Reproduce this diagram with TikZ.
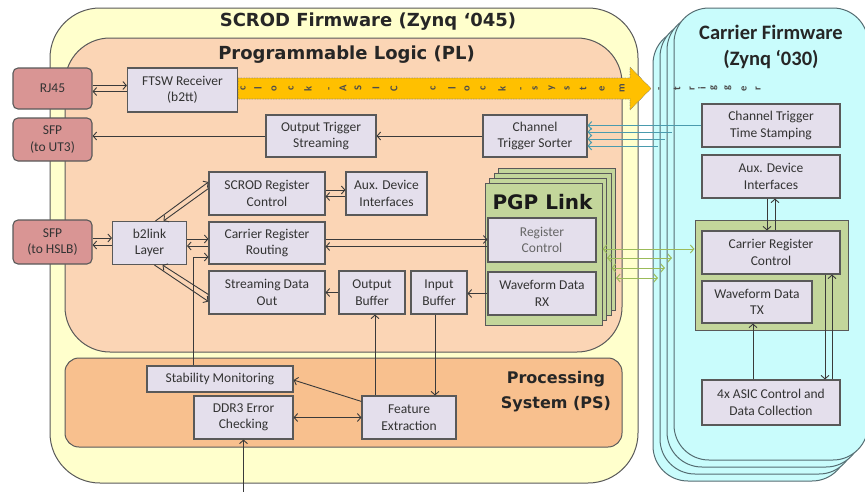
\documentclass[tikz,border=0pt]{standalone}
\usepackage{fontspec}
\setmainfont{Carlito}
\newfontfamily\dejavu{DejaVu Sans}
\usetikzlibrary{arrows.meta}
\definecolor{yel}{HTML}{FFFFCC}
\definecolor{plc}{HTML}{FBD5B5}
\definecolor{psc}{HTML}{F8C08E}
\definecolor{boxc}{HTML}{E4DFEC}
\definecolor{redc}{HTML}{D99594}
\definecolor{grn}{HTML}{C3D69B}
\definecolor{cya}{HTML}{C9FCFC}
\definecolor{org}{HTML}{FFC000}
\definecolor{tealc}{HTML}{4A9BAE}
\definecolor{grnl}{HTML}{9BBB59}
\definecolor{bord}{HTML}{595959}
\definecolor{linec}{HTML}{3A3A3A}
\definecolor{txt}{HTML}{333333}
\begin{document}
\begin{tikzpicture}[x=1pt,y=-1pt,
  blk/.style={draw=bord, fill=boxc, line width=1.1pt, align=center, inner sep=0pt,
    font=\fontsize{13.5}{16.5}\selectfont, text=txt},
  redb/.style={blk, fill=redc, rounded corners=5pt},
  title/.style={font=\dejavu\bfseries\fontsize{18}{24}\selectfont, text=black!85, inner sep=0pt, align=center},
  carr/.style={draw=bord!70!tealc, fill=cya, line width=1pt, rounded corners=35pt,
    minimum width=194pt, minimum height=452pt, inner sep=0pt},
  pgpl/.style={draw=bord, fill=grn, line width=1pt, minimum width=117pt, minimum height=142pt, inner sep=0pt},
  arr/.style={-{Straight Barb[length=3.5pt,width=8pt]}, line width=0.9pt, draw=linec},
  dbl/.style={{Straight Barb[length=3.5pt,width=8pt]}-{Straight Barb[length=3.5pt,width=8pt]}, line width=0.9pt, draw=linec},
  tarr/.style={-{Straight Barb[length=3.5pt,width=8pt]}, line width=1pt, draw=tealc},
  garr/.style={{Straight Barb[length=3.5pt,width=8pt]}-{Straight Barb[length=3.5pt,width=8pt]}, line width=1pt, draw=grnl},
  rotl/.style={rotate=90, font=\bfseries\fontsize{10.5}{10.5}\selectfont, inner sep=0pt, text=black!70}
]
\useasboundingbox (0,0) rectangle (865,491);
\clip (0,0) rectangle (865,491);

% ---------- Carrier firmware stack
\foreach \k in {3,2,1,0}
  \node[carr] (car\k) at ({771-7*\k},{234+7*\k}) {};
\node[font=\bfseries\fontsize{20.5}{26}\selectfont, align=center, text=black!85, inner sep=0pt]
  (cartitle) at (771,47) {Carrier Firmware\\(Zynq ‘030)};

% ---------- SCROD firmware
\node[draw=bord, fill=yel, line width=1pt, rounded corners=50pt, minimum width=588pt,
  minimum height=475pt, inner sep=0pt] (scrod) at (344,245.5) {};
\node[title] (scrodt) at (368,22) {SCROD Firmware (Zynq ‘045)};
\node[draw=bord, fill=plc, line width=1pt, rounded corners=45pt, minimum width=557pt,
  minimum height=314pt, inner sep=0pt] (pl) at (343.5,195) {};
\node[title] (plt) at (346.5,55) {Programmable Logic (PL)};
\node[draw=bord, fill=psc, line width=1pt, rounded corners=14pt, minimum width=557pt,
  minimum height=89pt, inner sep=0pt] (ps) at (343.5,402.5) {};
\node[title, font=\dejavu\bfseries\fontsize{16}{25}\selectfont] (pst) at (556,392) {Processing\\System (PS)};

% ---------- external connectors
\node[redb, minimum width=79pt, minimum height=41pt] (rj45) at (52.5,88.5) {RJ45};
\node[redb, minimum width=79pt, minimum height=43pt] (sfput3) at (52.5,139.5) {SFP\\(to UT3)};
\node[redb, minimum width=79pt, minimum height=44pt] (sfphslb) at (52.5,242) {SFP\\(to HSLB)};

% ---------- PL blocks
\node[blk, minimum width=110pt, minimum height=44pt] (ftsw) at (182.5,90) {FTSW Receiver\\(b2tt)};
\node[blk, minimum width=110pt, minimum height=42pt] (ots) at (321,136) {Output Trigger\\Streaming};
\node[blk, minimum width=104pt, minimum height=42pt] (cts) at (535,136) {Channel\\Trigger Sorter};
\node[blk, minimum width=74pt, minimum height=43pt] (b2link) at (149.5,243) {b2link\\Layer};
\node[blk, minimum width=116pt, minimum height=43pt] (src) at (267,193.5) {SCROD Register\\Control};
\node[blk, minimum width=81pt, minimum height=43pt] (aux1) at (386.5,193.5) {Aux. Device\\Interfaces};
\node[blk, minimum width=116pt, minimum height=42pt] (crr) at (267,243) {Carrier Register\\Routing};
\node[blk, minimum width=116pt, minimum height=43pt] (sdo) at (267,292.5) {Streaming Data\\Out};
\node[blk, minimum width=66pt, minimum height=43pt] (obuf) at (372,292.5) {Output\\Buffer};
\node[blk, minimum width=56pt, minimum height=43pt] (ibuf) at (439,292.5) {Input\\Buffer};

% ---------- PGP link stack
\foreach \k in {3,2,1,0}
  \node[pgpl] (pgp\k) at ({543.5+4.5*\k},{254-5*\k}) {};
\node[font=\dejavu\bfseries\fontsize{20}{24}\selectfont, text=black!90, inner sep=0pt] (pgpt) at (542.5,202) {PGP Link};
\node[blk, minimum width=108pt, minimum height=44pt, text=black!60] (pgprc) at (542,240) {Register\\Control};
\node[blk, minimum width=108pt, minimum height=43pt] (wdrx) at (542,293.5) {Waveform Data\\RX};

% ---------- PS blocks
\node[blk, minimum width=146pt, minimum height=26pt] (sm) at (220,379) {Stability Monitoring};
\node[blk, minimum width=99pt, minimum height=43pt] (ddr3) at (243.5,417.5) {DDR3 Error\\Checking};
\node[blk, minimum width=94pt, minimum height=43pt] (fe) at (409,417.5) {Feature\\Extraction};

% ---------- Carrier blocks
\node[blk, minimum width=138pt, minimum height=43pt] (ctts) at (771,125.5) {Channel Trigger\\Time Stamping};
\node[blk, minimum width=138pt, minimum height=43pt] (aux2) at (771,176.5) {Aux. Device\\Interfaces};
\node[draw=bord, fill=grn, line width=1pt, minimum width=153pt, minimum height=110pt, inner sep=0pt] (gcont) at (771.5,275) {};
\node[blk, minimum width=138pt, minimum height=43pt] (crc) at (771,252.5) {Carrier Register\\Control};
\node[blk, minimum width=110pt, minimum height=42pt] (wdtx) at (757,302) {Waveform Data\\TX};
\node[blk, minimum width=138pt, minimum height=45pt] (asic) at (771,402.5) {4x ASIC Control and\\Data Collection};

% ---------- clock arrow
\draw[fill=org, draw=black!55, line width=0.6pt, densely dotted]
  (ftsw.east |- 0,78) -- (630,78) -- (630,67) -- (651,88.5) -- (630,110) -- (630,99) -- (ftsw.east |- 0,99) -- cycle;
\foreach \ch/\xx [count=\i] in {c/243,l/258,o/274,c/291,k/308,-/330,A/343,S/358,I/376,C/394,
    c/433,l/452,o/467,c/483,k/502,-/522,s/535,y/552,s/567,t/583,e/602,m/622,
    -/660,t/677,r/692,i/702,g/714,g/728,e/744,r/758}
  \node[rotl] (ch\i) at (\xx,88.5) {\ch};

% ---------- PL connectors
\draw[arr] ([yshift=3pt]rj45.east) -- ([yshift=3pt]rj45.east -| ftsw.west);
\draw[arr] ([yshift=-3pt]rj45.east -| ftsw.west) -- ([yshift=-3pt]rj45.east);
\draw[arr] (ots.west) -- (ots.west -| sfput3.east);
\draw[arr] (cts.west) -- (ots.east);
\draw[arr] ([yshift=4pt]sfphslb.east) -- ([yshift=4pt]sfphslb.east -| b2link.west);
\draw[arr] ([yshift=-3pt]sfphslb.east -| b2link.west) -- ([yshift=-3pt]sfphslb.east);
\draw[arr] ([xshift=6pt]b2link.north) -- ([yshift=11.5pt]src.west);
\draw[arr] ([yshift=5pt]src.west) -- ([xshift=14pt]b2link.north);
\draw[arr] ([yshift=4pt]b2link.east) -- ([yshift=4pt]b2link.east -| crr.west);
\draw[arr] ([yshift=-3pt]b2link.east -| crr.west) -- ([yshift=-3pt]b2link.east);
\draw[arr] ([xshift=5pt]b2link.south) -- ([yshift=-9pt]sdo.west);
\draw[arr] ([yshift=-2pt]sdo.west) -- ([xshift=13pt]b2link.south);
\draw[arr] ([yshift=3.5pt]src.east) -- ([yshift=3.5pt]src.east -| aux1.west);
\draw[arr] ([yshift=-3pt]src.east -| aux1.west) -- ([yshift=-3pt]src.east);
\draw[arr] ([yshift=3.5pt]crr.east) -- ([yshift=3.5pt]crr.east -| pgprc.west);
\draw[arr] ([yshift=-3.5pt]crr.east -| pgprc.west) -- ([yshift=-3.5pt]crr.east);
\draw[arr] (obuf.west) -- (sdo.east);
\draw[arr] (wdrx.west) -- (wdrx.west -| ibuf.east);
\draw[arr] ([xshift=3pt]obuf.south |- fe.north) -- ([xshift=3pt]obuf.south);
\draw[arr] ([xshift=-4pt]ibuf.south) -- ([xshift=-4pt]ibuf.south |- fe.north);
\draw[arr] ([xshift=-27pt]sm.north) |- ([yshift=-14pt]crr.west);
\draw[arr] ([yshift=-6pt]fe.north west) -- ([yshift=-1pt]sm.east);
\draw[dbl] (ddr3.east) -- (ddr3.east -| fe.west);
\coordinate (ddrin) at (243.5,493);
\draw[arr] (ddrin) -- (ddr3.south);

% ---------- Carrier connectors
\draw[arr] ([xshift=-4pt]aux2.south) -- ([xshift=-4pt]crc.north);
\draw[arr] ([xshift=4pt]crc.north) -- ([xshift=4pt]aux2.south);
\draw[arr] ([xshift=54pt]crc.south) -- ([xshift=54pt]asic.north);
\draw[arr] ([xshift=61pt]asic.north) -- ([xshift=61pt]crc.south);
\draw[arr] ([xshift=-4pt]wdtx.south |- asic.north) -- ([xshift=-4pt]wdtx.south);

% ---------- trigger lines (teal)
\coordinate (tB) at (672,132);
\coordinate (tC) at (665,139);
\coordinate (tD) at (658,146);
\draw[tarr] (ctts.west) -- (ctts.west -| cts.east);
\draw[tarr] (tB) -- (tB -| cts.east);
\draw[tarr] (tC) -- (tC -| cts.east);
\draw[tarr] (tD) -- (tD -| cts.east);

% ---------- PGP lines (green)
\coordinate (gB) at (672,258);
\coordinate (gC) at (665,268);
\coordinate (gD) at (658,278);
\draw[garr] ([yshift=26pt]gcont.west -| pgp0.east) -- ([yshift=26pt]gcont.west);
\draw[garr] (gB -| pgp1.east) -- (gB);
\draw[garr] (gC -| pgp2.east) -- (gC);
\draw[garr] (gD -| pgp3.east) -- (gD);
\end{tikzpicture}
\end{document}
